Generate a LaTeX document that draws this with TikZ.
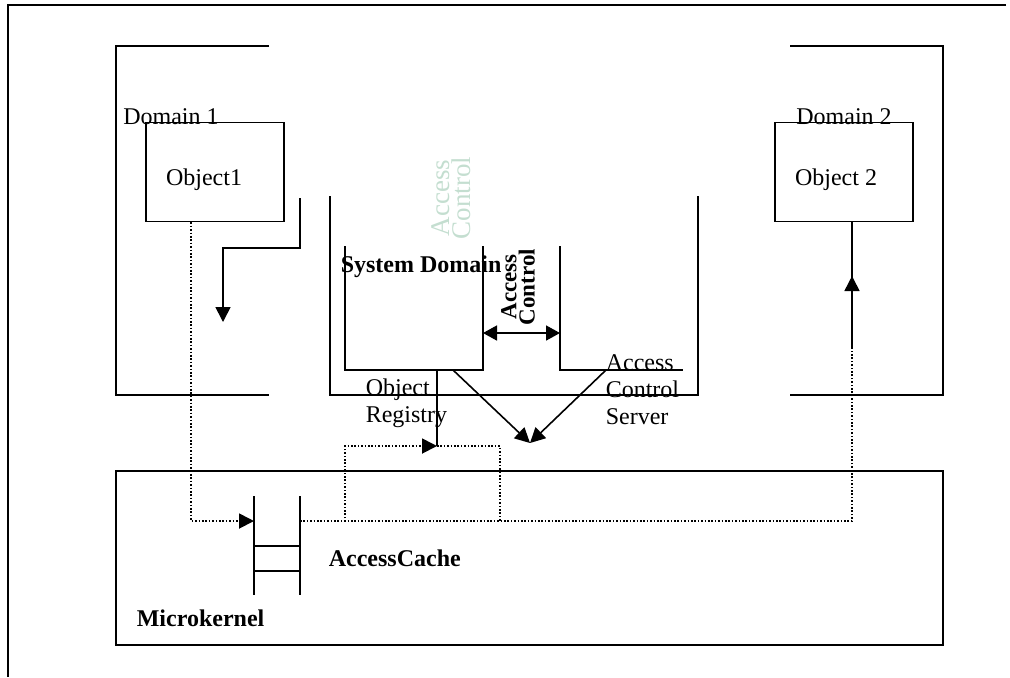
\documentclass[tikz,border=0pt]{standalone}
\usepackage{fontspec}
\setmainfont{Liberation Serif}
\usetikzlibrary{arrows.meta}
\definecolor{fadegreen}{RGB}{196,222,208}

\tikzset{
  txt/.style={inner sep=0pt},
  objbox/.style={draw, line width=0.8pt, minimum width=69pt, minimum height=49.5pt, inner sep=0pt},
  loopbox/.style={minimum width=76.5pt, minimum height=37.5pt, inner sep=0pt},
  dotline/.style={line width=0.9pt, dash pattern=on 0.8pt off 0.9pt},
  arr/.style={-{Triangle[length=7.5pt, width=7.5pt]}},
  dblarr/.style={{Triangle[length=7pt, width=7.5pt]}-{Triangle[length=7pt, width=7.5pt]}}
}

\begin{document}
\begin{tikzpicture}[x=0.5pt, y=-0.5pt, line width=0.8pt, font={\fontsize{12}{13.5}\selectfont}]
\useasboundingbox (0,0) rectangle (1010,677);

% page frame
\draw[line width=1.1pt] (1006,5) -- (8,5) -- (8,677);

% Domain 1 and Domain 2 brackets
\draw (269,46) -- (116,46) -- (116,395) -- (269,395);
\draw (790,46) -- (943,46) -- (943,395) -- (790,395);

% System Domain bracket and its parts
\draw (330,196) -- (330,395) -- (698,395) -- (698,196);
\draw (345,246) -- (345,370) -- (483,370) -- (483,246);
\draw (560,246) -- (560,370) -- (683,370);

% Microkernel box
\draw (116,471) rectangle (943,645);

% AccessCache ladder
\draw (254,496) -- (254,595);
\draw (300,496) -- (300,595);
\foreach \y in {546,571}
  \draw (254,\y) -- (300,\y);

% objects
\node[objbox] (obj1) at (215,172) {};
\node[objbox] (obj2) at (844,172) {};
\node[loopbox] (regloop) at (422.5,483.5) {};

% labels
\node[txt, anchor=base] (dom1) at (171,124) {Domain 1};
\node[txt] (obj1lbl) at (204,180) {Object1};
\node[txt, anchor=base] (dom2) at (844,124) {Domain 2};
\node[txt] (obj2lbl) at (836,180) {Object 2};
\node[txt, anchor=west, font={\fontsize{12}{13.5}\selectfont\bfseries}] (sysdom) at (340,267) {System Domain};
\node[txt, anchor=west, align=left] (regtxt) at (365,403) {Object\\Registry};
\node[txt, anchor=west, align=left] (srvtxt) at (605,390) {Access\\Control\\Server};
\node[txt, anchor=west, font={\fontsize{12}{13.5}\selectfont\bfseries}] (cachetxt) at (328,558) {AccessCache};
\node[txt, anchor=west, font={\fontsize{12}{13.5}\selectfont\bfseries}] (mktxt) at (136,618) {Microkernel};
\node[txt, rotate=90, align=center, text=fadegreen, font={\fontsize{13.5}{9}\selectfont}] (acfade) at (451,198) {Access\\Control};
\node[txt, rotate=90, align=center, font={\fontsize{11.5}{7}\selectfont\bfseries}] (acbold) at (518,287) {Access\\Control};

% connector points
\coordinate (o1out) at (300,198);
\coordinate (o1turn) at (223,248);
\coordinate (o1tip) at (223,322);
\coordinate (cacheIn) at (254,521);
\coordinate (cacheOut) at (300,521);
\coordinate (regR) at (483,333);
\coordinate (srvL) at (560,333);
\coordinate (regout) at (437,370);
\coordinate (regin) at (437,446);
\coordinate (regdiag) at (453,370);
\coordinate (srvdiag) at (606,370);
\coordinate (meet) at (530,443);
\coordinate (o2in) at (852,348);
\coordinate (o2tip) at (852,276);

% solid connectors
\draw[arr] (o1out) |- (o1turn) -- (o1tip);
\draw[dblarr] (regR) -- (srvL);
\draw (regout) -- (regin);
\draw[arr] (regdiag) -- (meet);
\draw[arr] (srvdiag) -- (meet);
\draw (o2in) -- (o2in |- obj2.south);
\draw[arr] (o2in) -- (o2tip);

% dotted message path
\draw[dotline, arr] ([xshift=23pt]obj1.south west) |- (cacheIn);
\draw[dotline] (cacheOut) -| (o2in);
\draw[dotline, arr] (regloop.south west) |- (regin);
\draw[dotline] (regin) -| (regloop.south east);

\end{tikzpicture}
\end{document}
